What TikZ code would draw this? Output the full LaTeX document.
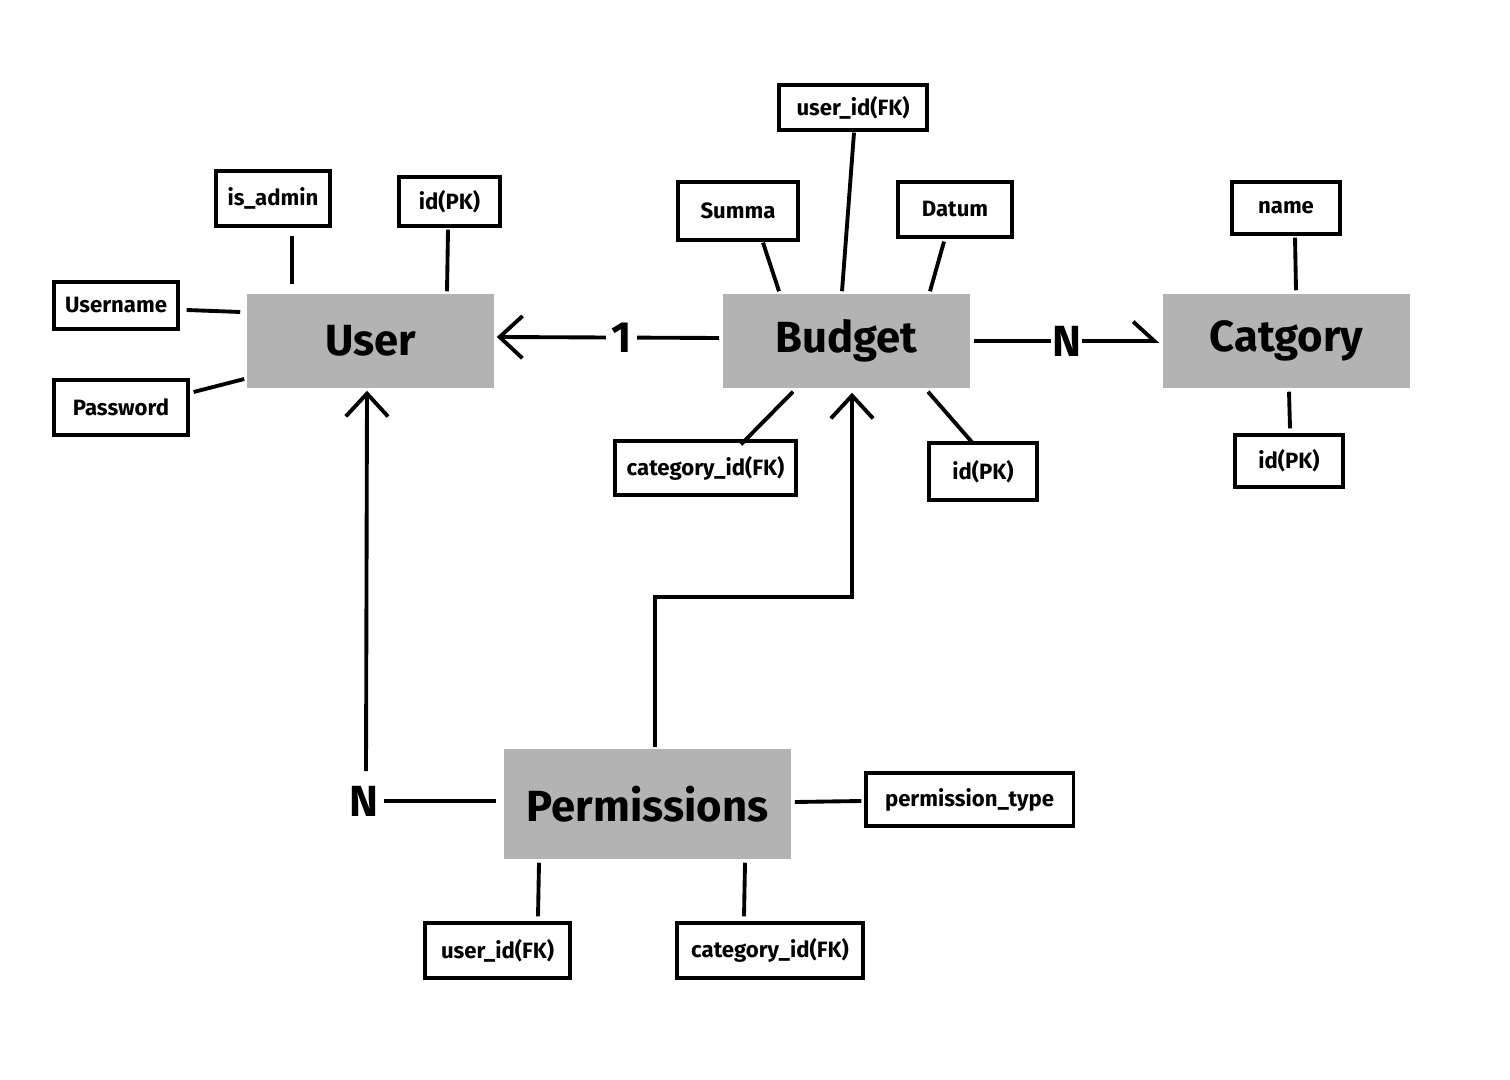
\documentclass[tikz,border=0pt]{standalone}
\usepackage{fontspec}
\setmainfont{Fira Sans}
\usepackage{tikz}
\usetikzlibrary{arrows.meta,calc}
\definecolor{entgray}{RGB}{179,179,179}
\tikzset{
	entity/.style= {
		rectangle, fill=entgray,
		minimum width=2.47cm, minimum height=0.94cm,
		inner sep=0, font=\bfseries\fontsize{12.4}{14}\selectfont
	},
	attr/.style= {
		rectangle, draw, line width=0.9pt, fill=white,
		inner sep=0, font=\bfseries\fontsize{6.3}{8}\selectfont
	},
	link/.style= {line width=1.1pt},
	card/.style= {
		fill=white, inner xsep=1.5pt, inner ysep=0,
		font=\bfseries\fontsize{12.4}{14}\selectfont
	},
	tip/.style= {-{Straight Barb[length=6.5pt,width=12pt]}}
}

\begin{document}
\begin{tikzpicture}[x=0.01cm,y=-0.01cm]
\useasboundingbox (0,0) rectangle (1510,1080);
% entities
\node[entity] (user) at (370.5,341) {User};
\node[entity] (budget) at (846.5,341) {Budget};
\node[entity] (cat) at (1286.5,341) {Catgory};
\node[entity, minimum width=2.87cm, minimum height=1.1cm] (perm) at (647.5,804) {Permissions};

% attributes of user
\node[attr, minimum width=1.14cm, minimum height=0.55cm] (isadm) at (273,198.5) {is\_admin};
\node[attr, minimum width=1.01cm, minimum height=0.49cm] (uid) at (449.5,201.5) {id(PK)};
\node[attr, minimum width=1.24cm, minimum height=0.47cm] (uname) at (116,305.5) {Username};
\node[attr, minimum width=1.34cm, minimum height=0.55cm] (pwd) at (121,407.5) {Password};

% attributes of budget
\node[attr, minimum width=1.48cm, minimum height=0.45cm] (buser) at (853,107.5) {user\_id(FK)};
\node[attr, minimum width=1.2cm, minimum height=0.58cm] (summa) at (738,211) {Summa};
\node[attr, minimum width=1.14cm, minimum height=0.55cm] (datum) at (955,209.5) {Datum};
\node[attr, minimum width=1.81cm, minimum height=0.54cm] (bcat) at (705.5,468) {category\_id(FK)};
\node[attr, minimum width=1.08cm, minimum height=0.57cm] (bid) at (983,471.5) {id(PK)};

% attributes of category
\node[attr, minimum width=1.08cm, minimum height=0.52cm] (cname) at (1286,208) {name};
\node[attr, minimum width=1.08cm, minimum height=0.52cm] (cid) at (1289,461) {id(PK)};

% attributes of permissions
\node[attr, minimum width=2.07cm, minimum height=0.53cm] (ptype) at (969.5,799.5) {permission\_type};
\node[attr, minimum width=1.45cm, minimum height=0.55cm] (puser) at (497.5,950.5) {user\_id(FK)};
\node[attr, minimum width=1.86cm, minimum height=0.55cm] (pcat) at (770,950.5) {category\_id(FK)};

% attribute links
\draw[link] ($(isadm.south)+(19,8)$) -- ($(user.north)+(-78.5,-9)$);
\draw[link] ($(uid.south)+(-1.5,2)$) -- ($(user.north)+(76.5,-2)$);
\draw[link] ($(uname.east)+(7,4.5)$) -- ($(user.west)+(-6,-29)$);
\draw[link] ($(pwd.east)+(4,-15.5)$) -- ($(user.west)+(-2,38)$);
\draw[link] ($(buser.south)+(1,1)$) -- ($(budget.north)+(-4.5,-2)$);
\draw[link] ($(summa.south)+(25,1)$) -- ($(budget.north)+(-67.5,-2)$);
\draw[link] ($(datum.south)+(-11,3)$) -- ($(budget.north)+(83.5,-2)$);
\draw[link] ($(budget.south)+(-53.5,3)$) -- ($(bcat.north)+(35.5,5)$);
\draw[link] ($(budget.south)+(81.5,3)$) -- ($(bid.north)+(-10,2)$);
\draw[link] ($(cname.south)+(9,2)$) -- ($(cat.north)+(9.5,-3)$);
\draw[link] ($(cat.south)+(2.5,3)$) -- ($(cid.north)+(1,-5)$);
\draw[link] ($(perm.east)+(3,-2)$) -- ($(ptype.west)+(-3,1.5)$);
\draw[link] ($(perm.south)+(-108.5,3)$) -- ($(puser.north)+(40.5,-5)$);
\draw[link] ($(perm.south)+(97.5,3)$) -- ($(pcat.north)+(-26,-5)$);

% relations
\draw[link, tip] ($(budget.west)+(-3,-3)$) -- node[card, pos=0.44] {1} ($(user.east)+(2,-4)$);
\draw[link, -{Straight Barb[left,length=6pt,width=11pt]}] ($(budget.east)+(3,0)$) -- node[card, inner xsep=0.3pt] {N} ($(cat.west)+(-3,0)$);
\node[card] (nperm) at (364,801) {N};
\draw[link] ($(perm.west)+(-7,-3)$) -- (nperm.east);
\draw[link, tip] ($(nperm.north)+(2,-14)$) -- ($(user.south)+(-3.5,2)$);
\draw[link, tip] ($(perm.north)+(7.5,-1)$) -- ++(0,-150) -| ($(budget.south)+(5.5,4)$);
\end{tikzpicture}
\end{document}
